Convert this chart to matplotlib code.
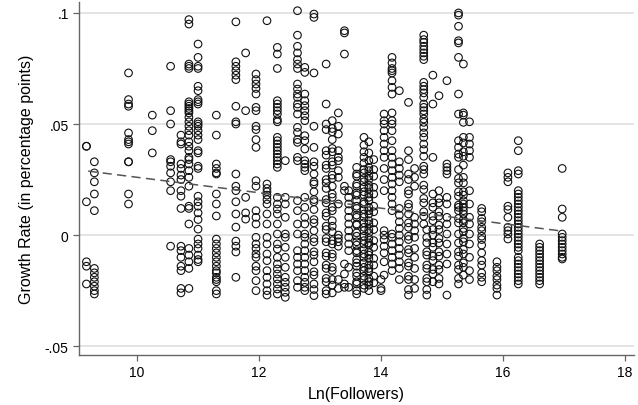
import matplotlib as mpl
import matplotlib.pyplot as plt
import numpy as np

mpl.rc('font', family='Liberation Sans')

# growth rates (in thousandths), one list per Ln(Followers) column
g01 = [40, 40, 15, -12, -14, -22]
g02 = [33, 28, 24, 18.5, 11, -15, -17, -19, -21, -23, -25, -26.5]
g03 = [73, 61, 59, 58, 46, 43, 42, 41, 33, 33, 18.5, 14]
g04 = [54, 47, 37]
g05 = [76, 56, 50, 34, 33, 31, 28, 24, 20, -5]
g06 = [45, 42, 41, 32, 30, 27, 25, 20, 17.5, 12, -5, -7, -10, -14, -16, -24, -26]
g07 = [97, 95, 77, 76, 75, 60, 59, 58, 57, 56, 55, 53, 51, 49, 47, 45, 42, 40,
       38, 35, 34, 32, 29, 26, 22, 13, 12, 5, -6, -9, -12, -15, -24]
g08 = [86, 80, 76, 75, 67, 65, 61, 60, 59, 51, 50, 49, 47, 45, 43, 38, 37, 31,
       30, 17.5, 15, 13, 10, 7, 2.7, -1.8, -4, -6, -9, -11, -12]
g09 = [54, 45, 32, 30, 28, 27.5, 18.5, 14, 8.6, -1.8, -4, -6, -8, -10, -12,
       -14, -16, -17, -19, -20, -21, -25, -26.5]
g10 = [96, 78, 76, 74, 72, 70, 58, 51, 50, 27.5, 22, 20, 15, 9.5, 3.6, -2.7,
       -5, -7.6, -19]
g11 = [82, 56, 17, 10, 7.2]
g12 = [72.5, 70, 68, 66, 63.5, 57.5, 56, 49, 47.5, 43, 39.5, 24.5, 22, 11, 8,
       5, -1, -4, -6, -8.5, -10, -14, -16, -20.5, -25]
g13 = [96.5, 23, 21, 19.5, 18, 16, 14, 9.5, 5, -1, -4, -8.5, -11.5, -16, -19,
       -22, -25, -27]
g14 = [84.5, 81.5, 75, 60.5, 59, 57.5, 56, 54.5, 52, 51, 44, 42.5, 41, 39.5,
       38, 36.5, 35, 33.5, 32, 30.5, 17, 14, 11.75, 9.5, 5, 0.5, -4, -6.25,
       -10, -13, -15.25, -17.5, -19.75, -22, -24.25, -26.5]
g15 = [33.5, 17, 14, 8, 0.5, -1, -5.5, -10, -14.5, -19, -21.25, -23.5,
       -25.75, -28]
g16 = [101, 90, 85, 82, 79, 77, 75, 68, 65.75, 63.5, 62, 59, 57.5, 54.5,
       48.5, 46.25, 43, 41.75, 35, 33.5, 15.5, 11, 5, 0.5, -7, -10, -13, -16,
       -20.5, -23.5]
g17 = [75.5, 73.25, 63.5, 60.5, 58.25, 56, 53.75, 51.5, 44.75, 42.5, 38.75,
       33.5, 32, 30.5, 29, 17, 12.5, 8, 5, 0.5, -1, -4, -7, -10, -13, -16,
       -19, -21.25, -23.5, -25]
g18 = [99.5, 98, 73, 49, 39.5, 33, 31, 27.5, 24, 23, 19.5, 16, 15, 11.5, 7,
       5.5, 2, -1.5, -3, -7.5, -9, -12, -16.5, -18, -22, -24.5, -27.25]
g19 = [77, 59, 50, 47.5, 38, 36, 31.5, 30, 25, 23.5, 21, 16, 14.5, 10, 8.5, 4,
       2.5, -1.5, -3, -8, -9.5, -13.5, -15, -19.5, -21, -25, -26.5]
g20 = [51.5, 48, 46.5, 43, 39, 37.5, 33, 31.5, 27, 25.5, 22, 18.5, 17, 12.5,
       11, 6.5, 4, 1.5, -2.5, -4, -8.5, -10, -14.5, -16, -20, -22.5, -26]
g21 = [55, 49, 45.5, 38, 35, 33.5, 29, 26, 14, 0, -1.5, -3, -5, -20, -24]
g22 = [92, 91, 81.5, 22, 20, -13, -17.5, -22, -23.5]
g23 = [20, 17, 14, 11, 8, 5, 2, -1, -4, -7, -14.5, -23.5]
g24 = [30.5, 27.5, 26.5, 23, 22, 19, 18, 15.5, 13, 12, 9, 8, 5, 4.5, 1, -0.5,
       -3, -4.5, -7, -8, -11, -12.5, -14, -17, -18.5, -21, -22, -25, -26.5]
g25 = [44, 40.5, 37.5, 35, 32.5, 29.5, 28, 25.5, 24, 21.5, 19.5, 18, 15, 14,
       11.5, 9.5, 8, 5.5, 3.5, 2, -0.5, -2.5, -4, -6.5, -8.5, -10, -12.5,
       -14.5, -16, -18.5, -20, -22.5, -24]
g26 = [42, 37, 33.5, 30.5, 29, 26.5, 25, 22.5, 21, 18.5, 17, 15.5, 12.5, 11,
       9.5, 6.5, 5, 2.5, 1, -1.5, -3.5, -4.5, -7.5, -9, -10.5, -13.5, -15,
       -16.5, -19.5, -21, -22.5, -25]
g27 = [34, 29.5, 26.5, 21.5, 18.5, 13, 10.5, 5.5, 2.5, -2.5, -5.5, -10.5,
       -13.5, -18.5, -21.5]
g28 = [-20, -24, -25]
g29 = [80, 77.5, 75, 74, 73, 69.5, 66.5, 63.5, 55, 51.5, 50, 47, 42.5, 38,
       35, 32, 29, 26, 23, 20, 17, 14, 11, 0.5, -1, -4, -7, -10, -13, -16]
g30 = [54.5, 51.5, 50, 47, 44, 41, 38, 35, 30, 25, 20, 2, 0, -2, -5, -8,
       -12, -18]
g31 = [65, 33, 30, 27, 24, 12, 9, 6, 3, 0, -3, -6, -9, -12, -15, -20]
g32 = [59.75, 38, 34, 27.5, 25, 20, 18.5, 14, 12.5, 9.5, 5.5, 3.5, -0.5, -2,
       -6.5, -8, -12.5, -14, -18.5, -20, -24.5, -27]
g33 = [30, 26, 22, 8, 5, 2, -1, -6, -10, -15, -20, -24]
g34 = [90, 88, 86.75, 85, 83.5, 82, 80.5, 79, 68.75, 67, 65.5, 64, 62, 59,
       57.5, 56, 54.5, 52.25, 50.75, 48.5, 46, 44, 41, 38.5, 35.5, 31, 29.5,
       27.5, 22.5, 20.5, 16.5, 14.5, 10.5, 8.5, 5]
g35 = [2.5, -1, -3.5, -7.5, -9, -13.5, -15, -19.5, -21, -24.5, -27]
g36 = [72, 59, 35, 18.5, 14.5, 12.5, 8.5, 6.5, 2.5, 0, -3.5, -5.5, -9.5,
       -11.5, -15.5, -17.5, -21]
g37 = [62.75, 20, 16.5, 14.5, 10.5, 8.5, 4.5, 2.5, -1.5, -3.5, -7.5, -9.5,
       -13.5, -15.5, -19.5, -22]
g38 = [69.5, 32, 30.5, 29, 27.5, 17, 14, 8, 5, 0.5, -4, -8.5, -13, -27]
g39 = [100, 99, 94, 87.5, 86.5, 80, 63.5, 54.5, 42.5, 39.5, 36.5, 35, 29.5,
       25.5, 23.5, 19.5, 17.5, 13.5, 12.5, 11, 7.5, 5.5, 0.5, -3.5, -7.5,
       -9.5, -13.5, -15.5, -19.5, -22]
g40 = [77, 55, 54, 50.75, 44, 41.5, 37.5, 35.5, 31.5, 26, 23.5, 19.5, 18,
       15.5, 14, 12.5, 11, 9.5, 7, 5.5, 3, 1.5, -1.5, -3, -6.5, -8.5, -12.5,
       -14.5, -18]
g41 = [51, 44, 41, 38, 35, 20, 14, 8, 5, 0.5, -4, -10, -16, -20]
g42 = [12, 10.5, 7.5, 6, 3.5, 2, -0.5, -2, -4.5, -8, -11.5, -13.5, -17, -19,
       -21]
g43 = [-12, -14.5, -16, -18.5, -20, -22.5, -24, -27]
g44 = [28, 26, 24, 13, 11.5, 8, 3.5, 2, 0.5, -1.75]
g45 = [42.5, 38, 29, 27.5, 20, 18.5, 17, 15.5, 14, 12.5, 11, 9.5, 8, 6.5, 5,
       3.5, 2, 0.5, -1, -2.5, -4, -5.5, -7, -10, -11.5, -13, -14.5, -16,
       -17.5, -19, -20.5, -22]
g46 = [-4, -5.5, -7, -8.5, -10, -11.5, -13, -14.5, -16, -17.5, -19, -20.5, -22]
g47 = [30, 11.75, 8, 0.5, -1, -2.5, -4, -5.5, -7, -8.5, -10, -10.75]

followers = [9.17, 9.30, 9.86, 10.25, 10.55, 10.72, 10.85, 11.0, 11.3, 11.62,
             11.78, 11.95, 12.13, 12.3, 12.43, 12.63, 12.75, 12.9, 13.1, 13.2,
             13.3, 13.4, 13.47, 13.6, 13.72, 13.8, 13.88, 14.0, 14.18, 14.05,
             14.3, 14.45, 14.55, 14.7, 14.75, 14.85, 14.95, 15.08, 15.27,
             15.35, 15.45, 15.65, 15.9, 16.08, 16.25, 16.6, 16.97]
columns = [g01, g02, g03, g04, g05, g06, g07, g08, g09, g10, g11, g12, g13,
           g14, g15, g16, g17, g18, g19, g20, g21, g22, g23, g24, g25, g26,
           g27, g28, g29, g30, g31, g32, g33, g34, g35, g36, g37, g38, g39,
           g40, g41, g42, g43, g44, g45, g46, g47]

# fitted line
fit_x = [9.20, 16.97]
fit_y = [0.0288, 0.0018]

x = np.concatenate([[f] * len(c) for f, c in zip(followers, columns)])
y = np.concatenate(columns) / 1000.0

fig = plt.figure(figsize=(6.38, 4.06), dpi=100)
ax = fig.add_axes([0.124, 0.123, 0.870, 0.870])

ax.set_axisbelow(True)
ax.grid(axis='y', color='#dcdcdc', linewidth=1.1)
ax.scatter(x, y, s=30, facecolors='none', edgecolors='#111111', linewidths=0.8, zorder=2)
ax.plot(fit_x, fit_y, color='#555555', linewidth=1.1, linestyle=(0, (6, 3.5)), zorder=3)

ax.set_xlim(9.05, 18.15)
ax.set_ylim(-0.054, 0.105)
ax.set_xticks([10, 12, 14, 16, 18])
ax.set_yticks([0.1, 0.05, 0, -0.05])
ax.set_yticklabels(['.1', '.05', '0', '-.05'])

for s in ['top', 'right']:
    ax.spines[s].set_visible(False)
for s in ['left', 'bottom']:
    ax.spines[s].set_color('#666666')
    ax.spines[s].set_linewidth(1.0)
ax.tick_params(length=4.5, width=0.9, color='#666666', labelsize=10, pad=3)

ax.set_xlabel('Ln(Followers)', fontsize=11.5, labelpad=5)
ax.set_ylabel('Growth Rate (in percentage points)', fontsize=11.5, labelpad=8)

plt.savefig('out.png', dpi=100)
